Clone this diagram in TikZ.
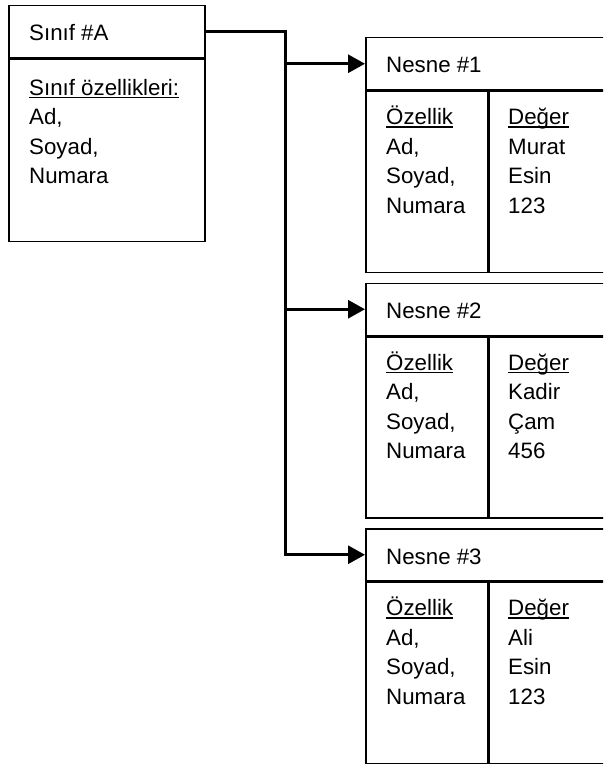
\documentclass[tikz,border=0pt]{standalone}
\usepackage{fontspec}
\setmainfont{Liberation Sans}
\usetikzlibrary{arrows.meta}
\newcommand{\altcizgi}[1]{\setbox0\hbox{#1}\rlap{\rule[-3.2pt]{\wd0}{1.6pt}}\box0}

\tikzset{
  kutu/.style={draw, line width=1.5pt, anchor=north west, inner sep=0pt},
  baslik/.style={kutu, minimum height=52pt},
  govde/.style={kutu, minimum height=181pt},
  yazi/.style={anchor=base west, align=left, inner sep=0pt},
  baglanti/.style={line width=3pt},
  ok/.style={baglanti, -{Triangle[length=17pt, width=18pt]}},
}

\begin{document}
\begin{tikzpicture}[x=1pt, y=-1pt, font=\fontsize{22.3}{29.5}\selectfont]
    \useasboundingbox (0,0) rectangle (603,765);
    \clip (0,0) rectangle (603,765);
    \node[baslik, minimum width=196pt] (sinif) at (8,5) {};
    \node[govde, minimum width=196pt, minimum height=182pt] (sinifgovde) at (sinif.south west) {};
    \node[yazi] (sinifad) at (29,41) {Sınıf \#A};
    % base anchor sits on the last line
    \node[yazi] (sinifliste) at (29,183.5) {\altcizgi{Sınıf özellikleri:}\\Ad,\\Soyad,\\Numara};
    \foreach \i/\y/\isim/\soy/\numara in {1/37/Murat/Esin/123, 2/282.5/Kadir/Çam/456, 3/528/Ali/Esin/123}{
      \node[baslik, minimum width=300pt] (nesne\i) at (365,\y) {};
      \node[govde, minimum width=122pt] (ozellik\i) at (nesne\i.south west) {};
      \node[govde, minimum width=178pt] (deger\i) at (ozellik\i.north east) {};
      \node[yazi] (nesnead\i) at (386,\y+36) {Nesne \#\i};
      \node[yazi] (ozelliklist\i) at (386,\y+176) {\altcizgi{Özellik}\\Ad,\\Soyad,\\Numara};
      \node[yazi] (degerlist\i) at (508,\y+176) {\altcizgi{Değer}\\\isim\\\soy\\\numara};
    }
    \coordinate (kol) at (285,0);
    \draw[ok] (sinif.east) -| (kol |- nesne3.west) -- (nesne3.west);
    \foreach \i in {1,2}{
      \draw[ok] (kol |- nesne\i.west) -- (nesne\i.west);
    }
\end{tikzpicture}
\end{document}
